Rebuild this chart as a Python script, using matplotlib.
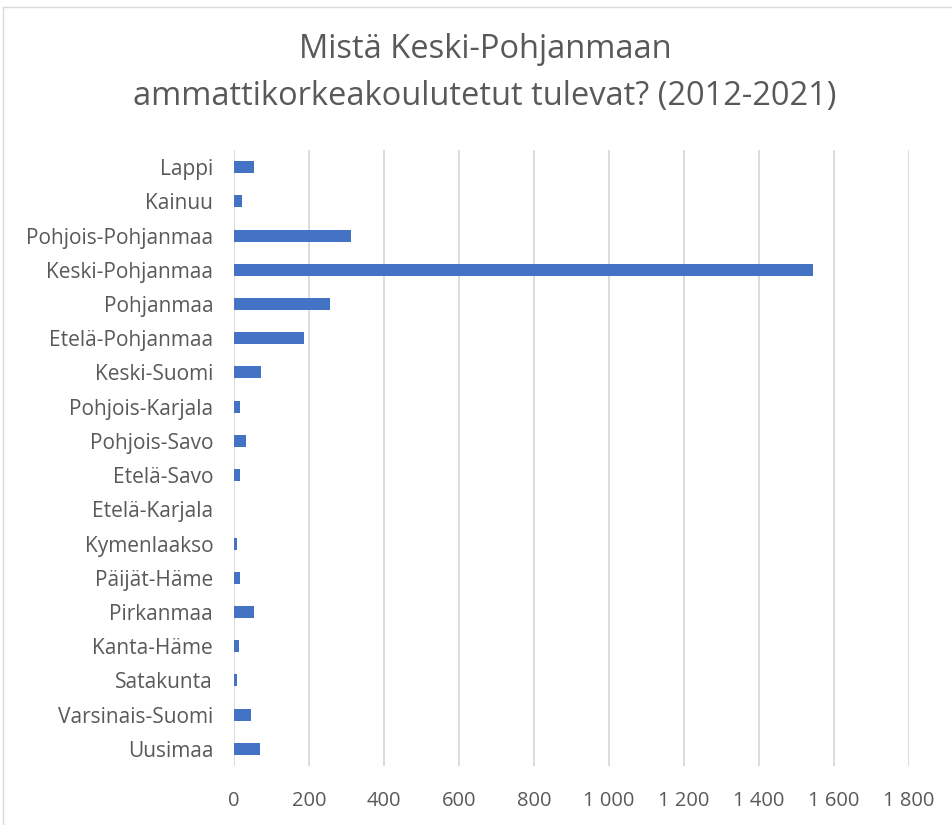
import numpy as np
import matplotlib.pyplot as plt
from matplotlib.ticker import FuncFormatter
from matplotlib.lines import Line2D

# maakunnat alhaalta ylös (kuten kuvassa)
regions = ["Uusimaa", "Varsinais-Suomi", "Satakunta", "Kanta-Häme", "Pirkanmaa",
           "Päijät-Häme", "Kymenlaakso", "Etelä-Karjala", "Etelä-Savo", "Pohjois-Savo",
           "Pohjois-Karjala", "Keski-Suomi", "Etelä-Pohjanmaa", "Pohjanmaa",
           "Keski-Pohjanmaa", "Pohjois-Pohjanmaa", "Kainuu", "Lappi"]
counts = [69, 44, 8, 12, 53, 15, 8, 0, 17, 32, 15, 72, 186, 257, 1545, 311, 20, 52]
xticks = [0, 200, 400, 600, 800, 1000, 1200, 1400, 1600, 1800]

plt.rcParams['font.family'] = ['Open Sans', 'DejaVu Sans']

fig = plt.figure(figsize=(9.52, 8.25), dpi=100)
ax = fig.add_axes([234 / 952, 1 - 766 / 825, (909 - 234) / 952, (766 - 150) / 825])

y = np.arange(len(regions))
ax.barh(y, counts, height=0.35, color="#4472C4", zorder=3)

ax.set_xlim(0, 1800)
ax.set_ylim(-0.5, len(regions) - 0.5)
ax.set_xticks(xticks)
ax.xaxis.set_major_formatter(FuncFormatter(lambda v, p: f"{int(v):,}".replace(",", " ")))
ax.set_yticks(y)
ax.set_yticklabels(regions)
ax.tick_params(axis="both", length=0, colors="#595959")
ax.tick_params(axis="x", pad=18, labelsize=14.5)
ax.tick_params(axis="y", pad=15, labelsize=15)
ax.grid(axis="x", color="#d9d9d9", linewidth=1.3, zorder=0)
for s in ax.spines.values():
    s.set_visible(False)

fig.text(485 / 952, 1 - 73 / 825, "Mistä Keski-Pohjanmaan\nammattikorkeakoulutetut tulevat? (2012-2021)",
         ha="center", va="center", fontsize=23.5, color="#595959", linespacing=1.55)

# kaavion reunaviiva
fig.add_artist(Line2D([3 / 952, 3 / 952], [0, 1 - 7 / 825], transform=fig.transFigure,
                      color="#d9d9d9", linewidth=1))
fig.add_artist(Line2D([3 / 952, 1], [1 - 7 / 825, 1 - 7 / 825], transform=fig.transFigure,
                      color="#d9d9d9", linewidth=1))

fig.savefig("out.png", dpi=100)
